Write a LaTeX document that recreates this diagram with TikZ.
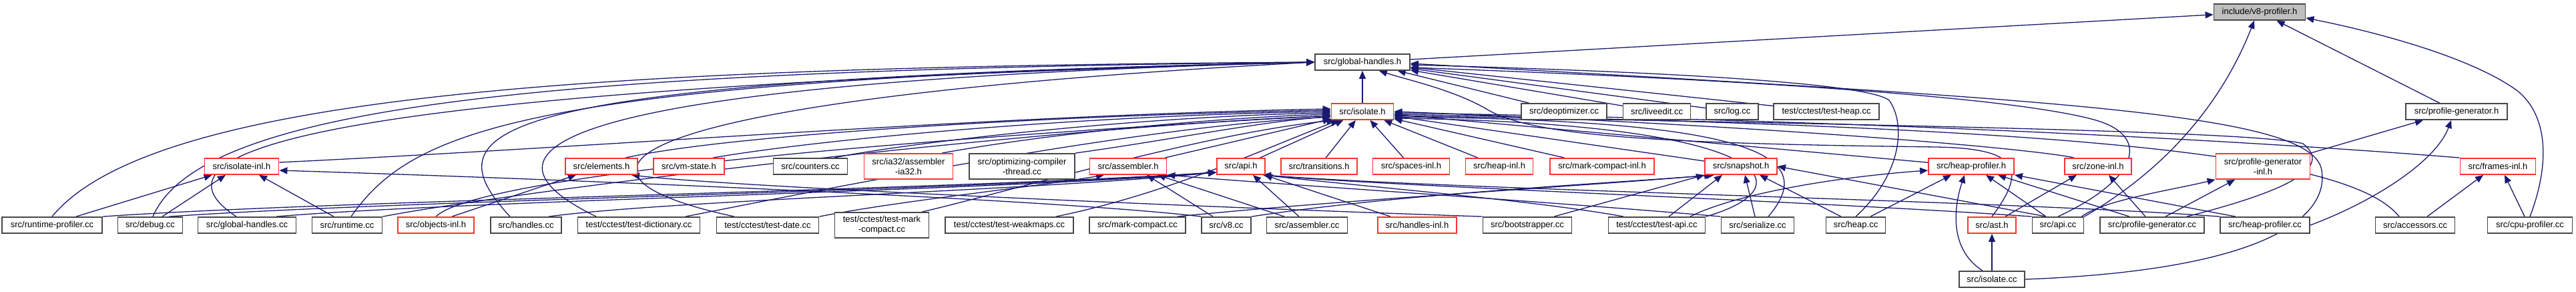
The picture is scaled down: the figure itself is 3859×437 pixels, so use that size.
\documentclass[tikz,border=0pt]{standalone}
\usepackage{fontspec}
\setmainfont{Liberation Sans}
\usetikzlibrary{arrows.meta}
\definecolor{eblue}{RGB}{25,25,112}
\definecolor{nred}{RGB}{255,50,50}
\definecolor{ngray}{RGB}{191,191,191}
\pgfdeclarelayer{bg}
\pgfsetlayers{bg,main}
\begin{document}
\begin{tikzpicture}[x=0.5pt,y=0.5pt,
 nd/.style={draw=black!72, line width=0.9pt, fill=white, inner sep=0pt, minimum height=12pt, font=\fontsize{6.5}{7.4}\selectfont, align=center},
 rn/.style={nd, draw=nred},
 tall/.style={minimum height=19pt},
 ed/.style={draw=eblue, line width=0.65pt, -{Triangle[length=6pt,width=5pt]}}]
\useasboundingbox (0,0) rectangle (3859,-437);
% level 0-2
\node[nd,fill=ngray,minimum width=68.5pt] (vp) at (3385,-18) {include/v8-profiler.h};
\node[nd,minimum width=71pt] (gh) at (2041,-93) {src/global-handles.h};
\node[rn,minimum width=46.5pt] (ih) at (2041,-167) {src/isolate.h};
\node[nd,minimum width=64pt] (deopt) at (2343,-167) {src/deoptimizer.cc};
\node[nd,minimum width=50.5pt] (liveedit) at (2482,-167) {src/liveedit.cc};
\node[nd,minimum width=39pt] (log) at (2595,-167) {src/log.cc};
\node[nd,minimum width=79pt] (theap) at (2736,-167) {test/cctest/test-heap.cc};
\node[nd,minimum width=76pt] (pgh) at (3680,-167) {src/profile-generator.h};
% level 3
\node[rn,minimum width=55.5pt] (iinl) at (362,-249) {src/isolate-inl.h};
\node[rn,minimum width=54pt] (elem) at (901,-249) {src/elements.h};
\node[rn,minimum width=53pt] (vms) at (1032,-249) {src/vm-state.h};
\node[nd,minimum width=55.5pt] (counters) at (1214,-249) {src/counters.cc};
\node[rn,tall,minimum width=66.5pt] (ia32) at (1361,-249) {src/ia32/assembler\\-ia32.h};
\node[nd,tall,minimum width=79pt] (ocomp) at (1531,-249) {src/optimizing-compiler\\-thread.cc};
\node[rn,minimum width=57.5pt] (asmh) at (1690,-249) {src/assembler.h};
\node[rn,minimum width=36pt] (apih) at (1859,-249) {src/api.h};
\node[rn,minimum width=57pt] (trans) at (1976,-249) {src/transitions.h};
\node[rn,minimum width=57.5pt] (spaces) at (2114,-249) {src/spaces-inl.h};
\node[rn,minimum width=50.5pt] (heapinl) at (2246,-249) {src/heap-inl.h};
\node[rn,minimum width=78pt] (mcinl) at (2400,-249) {src/mark-compact-inl.h};
\node[rn,minimum width=54pt] (snap) at (2608,-249) {src/snapshot.h};
\node[rn,minimum width=64pt] (hph) at (2953,-249) {src/heap-profiler.h};
\node[rn,minimum width=50pt] (zone) at (3143,-249) {src/zone-inl.h};
\node[rn,tall,minimum width=70.5pt] (pgi) at (3390,-249) {src/profile-generator\\-inl.h};
\node[rn,minimum width=56.5pt] (frames) at (3742,-249) {src/frames-inl.h};
% level 4
\node[nd,minimum width=75pt] (rprof) at (78,-337) {src/runtime-profiler.cc};
\node[nd,minimum width=48.5pt] (debug) at (225,-337) {src/debug.cc};
\node[nd,minimum width=73.5pt] (gcc) at (370,-337) {src/global-handles.cc};
\node[nd,minimum width=52.5pt] (runtime) at (520,-337) {src/runtime.cc};
\node[rn,minimum width=57pt] (objinl) at (653,-337) {src/objects-inl.h};
\node[nd,minimum width=53pt] (handles) at (788,-337) {src/handles.cc};
\node[nd,minimum width=91.5pt] (tdict) at (957,-337) {test/cctest/test-dictionary.cc};
\node[nd,minimum width=76.5pt] (tdate) at (1150,-337) {test/cctest/test-date.cc};
\node[nd,tall,minimum width=70.5pt] (tmc) at (1321,-337) {test/cctest/test-mark\\-compact.cc};
\node[nd,minimum width=96pt] (tweak) at (1512,-337) {test/cctest/test-weakmaps.cc};
\node[nd,minimum width=72pt] (mccc) at (1704,-337) {src/mark-compact.cc};
\node[nd,minimum width=37pt] (v8cc) at (1837,-337) {src/v8.cc};
\node[nd,minimum width=60.5pt] (asmcc) at (1958,-337) {src/assembler.cc};
\node[rn,minimum width=59pt] (hinl) at (2123,-337) {src/handles-inl.h};
\node[nd,minimum width=66.5pt] (boot) at (2288,-337) {src/bootstrapper.cc};
\node[nd,minimum width=72.5pt] (tapi) at (2482,-337) {test/cctest/test-api.cc};
\node[nd,minimum width=54.5pt] (ser) at (2633,-337) {src/serialize.cc};
\node[nd,minimum width=44.5pt] (heapcc) at (2780,-337) {src/heap.cc};
\node[rn,minimum width=36pt] (ast) at (2984,-337) {src/ast.h};
\node[nd,minimum width=38.5pt] (apicc) at (3083,-337) {src/api.cc};
\node[nd,minimum width=78pt] (pgcc) at (3224,-337) {src/profile-generator.cc};
\node[nd,minimum width=67pt] (hpcc) at (3393,-337) {src/heap-profiler.cc};
\node[nd,minimum width=59.5pt] (acc) at (3618,-337) {src/accessors.cc};
\node[nd,minimum width=63.5pt] (cpu) at (3790,-337) {src/cpu-profiler.cc};
\node[nd,minimum width=49pt] (isocc) at (2984,-418) {src/isolate.cc};
\begin{pgfonlayer}{bg}
% ---- edges to v8-profiler.h
\draw[ed] (gh) -- (vp);
\draw[ed] (pgh) -- (vp);
\draw[ed] (cpu.north) .. controls (3822,-240) and (3815,-170) .. (3770,-135) .. controls (3700,-85) and (3560,-48) .. ([yshift=2pt]vp.south east);
\draw[ed] (apicc.north east) .. controls (3250,-250) and (3330,-150) .. ([xshift=-4pt]vp.south);
% ---- profile-generator.h
\draw[ed] (pgi.north east) -- ([xshift=-25pt]pgh.south);
\draw[ed] (hpcc.east) .. controls (3560,-300) and (3650,-240) .. ([xshift=-4pt]pgh.south);
% ---- global-handles.h
\draw[ed] (ih) -- (gh);
\draw[ed] (deopt) -- (gh);
\draw[ed] (liveedit) -- (gh);
\draw[ed] (log) -- (gh);
\draw[ed] (theap) -- (gh);
\draw[ed] (heapcc.north) .. controls (2850,-260) and (2855,-185) .. (2830,-150) .. controls (2790,-120) and (2400,-105) .. ([yshift=-2pt]gh.east);
\draw[ed] (apicc.north) .. controls (3200,-270) and (3225,-205) .. (3140,-180) .. controls (3000,-140) and (2500,-115) .. ([yshift=-4pt]gh.east);
\draw[ed] (isocc.east) .. controls (3380,-405) and (3490,-330) .. (3478,-255) .. controls (3465,-170) and (3100,-150) .. ([yshift=-1pt]gh.east);
\draw[ed] (ast.north) .. controls (3040,-250) and (3020,-222) .. (2900,-220) .. controls (2500,-215) and (2300,-205) .. (2230,-165) .. controls (2180,-135) and (2110,-120) .. ([xshift=-23.5pt]gh.south east);
\draw[ed] (rprof.north) .. controls (230,-140) and (900,-100) .. (gh.west);
\draw[ed] ([xshift=2pt]debug.north) .. controls (300,-160) and (800,-105) .. (gh.west);
\draw[ed] ([xshift=-8pt]gcc.north) .. controls (180,-210) and (600,-130) .. (gh.west);
\draw[ed] ([xshift=3pt]runtime.north) .. controls (620,-190) and (800,-120) .. (gh.west);
\draw[ed] ([xshift=-12pt]handles.north) .. controls (640,-190) and (720,-120) .. (gh.west);
\draw[ed] ([xshift=-32pt]tdict.north) .. controls (700,-230) and (780,-125) .. (gh.west);
\draw[ed] ([xshift=-25pt]tdate.north) .. controls (800,-260) and (900,-150) .. (gh.west);
% ---- isolate.h
\draw[ed] ([yshift=3pt]iinl.east) .. controls (900,-220) and (1500,-172) .. ([yshift=2pt]ih.west);
\draw[ed] ([xshift=18pt]elem.north) .. controls (1100,-200) and (1600,-172) .. ([yshift=1pt]ih.west);
\draw[ed] ([xshift=18pt]vms.north) .. controls (1250,-205) and (1650,-172) .. (ih.west);
\draw[ed] ([xshift=18pt]counters.north) .. controls (1350,-215) and (1700,-174) .. ([yshift=-1pt]ih.west);
\draw[ed] ([xshift=25pt]ia32.north) .. controls (1600,-195) and (1850,-175) .. ([yshift=-2pt]ih.west);
\draw[ed] (ocomp.north east) .. controls (1750,-210) and (1900,-180) .. ([yshift=-4pt]ih.west);
\draw[ed] (asmh) -- (ih);
\draw[ed] (apih) -- (ih);
\draw[ed] (trans) -- (ih);
\draw[ed] (spaces) -- (ih);
\draw[ed] (heapinl) -- (ih);
\draw[ed] (mcinl) -- (ih);
\draw[ed] (snap) -- (ih);
\draw[ed] (hph) -- (ih);
\draw[ed] ([xshift=-18pt]zone.north) .. controls (3060,-225) and (2700,-190) .. (ih.east);
\draw[ed] (frames.north west) .. controls (3300,-205) and (2700,-178) .. ([yshift=-1pt]ih.east);
\draw[ed] ([xshift=-12pt]acc.north) .. controls (3520,-230) and (3100,-190) .. ([yshift=-2pt]ih.east);
\draw[ed] ([xshift=26pt]pgcc.north) .. controls (3430,-285) and (3495,-250) .. (3450,-215) .. controls (3380,-195) and (2700,-185) .. ([yshift=-3pt]ih.east);
\draw[ed] ([xshift=8pt]ser.north) .. controls (2725,-235) and (2640,-180) .. ([yshift=-4pt]ih.east);
\draw[ed] (tapi.north east) .. controls (2710,-280) and (2660,-185) .. ([yshift=-5pt]ih.east);
\draw[ed] (objinl.north) .. controls (720,-260) and (1400,-205) .. ([yshift=-3pt]ih.west);
\draw[ed] (runtime.north east) .. controls (750,-290) and (1500,-195) .. ([yshift=-3pt]ih.west);
\draw[ed] ([xshift=35pt]tdict.north) .. controls (1250,-280) and (1700,-190) .. ([yshift=-4pt]ih.west);
\draw[ed] ([xshift=30pt]tmc.north) .. controls (1500,-290) and (1800,-200) .. ([xshift=3pt]ih.south west);
\draw[ed] ([xshift=35pt]tweak.north) .. controls (1750,-290) and (1900,-220) .. ([xshift=6pt]ih.south west);
% ---- isolate-inl.h
\draw[ed] ([xshift=18pt]rprof.north) -- ([xshift=6pt]iinl.south west);
\draw[ed] ([xshift=9pt]debug.north) -- ([xshift=-12pt]iinl.south);
\draw[ed] ([xshift=-10pt]runtime.north) -- ([xshift=13pt]iinl.south);
\draw[ed] (v8cc.north west) .. controls (1600,-300) and (900,-270) .. ([yshift=-3pt]iinl.east);
% ---- elements.h
\draw[ed] ([xshift=12pt]objinl.north) -- ([xshift=-19pt]elem.south);
\draw[ed] (boot.north west) .. controls (1800,-310) and (1100,-280) .. ([xshift=-5pt]elem.south east);
% ---- assembler.h
\draw[ed] (tdate.north east) .. controls (1350,-300) and (1550,-280) .. ([xshift=-18pt]asmh.south);
\draw[ed] ([xshift=-10pt]v8cc.north) -- ([xshift=14pt]asmh.south);
\draw[ed] ([xshift=-17pt]asmcc.north) -- ([xshift=22pt]asmh.south);
\draw[ed] (ser.north west) .. controls (2300,-300) and (1900,-275) .. (asmh.south east);
% ---- api.h
\draw[ed] (rprof.north east) .. controls (500,-300) and (1400,-285) .. ([yshift=2pt]apih.south west);
\draw[ed] ([xshift=14pt]debug.north) .. controls (600,-300) and (1450,-285) .. ([yshift=2pt]apih.south west);
\draw[ed] ([xshift=22pt]gcc.north) .. controls (700,-300) and (1500,-285) .. ([yshift=2pt]apih.south west);
\draw[ed] ([xshift=17pt]handles.north) .. controls (1000,-300) and (1550,-285) .. ([yshift=2pt]apih.south west);
\draw[ed] ([xshift=-6pt]asmcc.north) -- ([xshift=9pt]apih.south);
\draw[ed] ([xshift=-20pt]hinl.north) -- ([xshift=-1pt]apih.south east);
\draw[ed] (apicc.north west) .. controls (2700,-300) and (2100,-280) .. ([xshift=-2pt]apih.south east);
\draw[ed] ([xshift=-25pt]tapi.north) .. controls (2300,-300) and (2050,-280) .. ([xshift=-2pt]apih.south east);
\draw[ed] (hpcc.north west) .. controls (3000,-300) and (2200,-285) .. ([xshift=-2pt]apih.south east);
% ---- snapshot.h
\draw[ed] ([xshift=20pt]boot.north) -- (snap.south west);
\draw[ed] ([xshift=9pt]tapi.north) -- ([xshift=-14pt]snap.south);
\draw[ed] ([xshift=-2pt]ser.north) -- ([xshift=3pt]snap.south);
\draw[ed] ([xshift=-11pt]heapcc.north) -- ([xshift=14pt]snap.south);
\draw[ed] ([xshift=-9pt]apicc.north) -- (snap.east);
\draw[ed] (v8cc.north east) .. controls (2100,-290) and (2400,-275) .. ([xshift=-20pt]snap.south);
\draw[ed] ([xshift=30pt]mccc.north) .. controls (2000,-300) and (2350,-280) .. ([xshift=6pt]snap.south west);
% ---- heap-profiler.h
\draw[ed] ([xshift=11pt]heapcc.north) -- ([xshift=-15pt]hph.south);
\draw[ed] ([xshift=-7pt]isocc.north) .. controls (2915,-370) and (2930,-300) .. ([xshift=-5pt]hph.south);
\draw[ed] ([xshift=-9pt]apicc.north) -- ([xshift=11pt]hph.south);
\draw[ed] ([xshift=-17pt]pgcc.north) -- ([xshift=20pt]hph.south);
\draw[ed] ([xshift=-22pt]hpcc.north) -- (hph.south east);
\draw[ed] ([xshift=25pt]tapi.north) .. controls (2600,-290) and (2750,-265) .. ([yshift=-3pt]hph.west);
% ---- zone-inl.h
\draw[ed] ([xshift=10pt]ast.north) -- ([xshift=-16pt]zone.south);
\draw[ed] ([xshift=-5pt]pgcc.north) -- ([xshift=8pt]zone.south);
% ---- profile-generator-inl.h
\draw[ed] ([xshift=10pt]pgcc.north) -- ([xshift=-21pt]pgi.south);
\draw[ed] ([xshift=-2pt]apicc.north east) .. controls (3150,-300) and (3250,-285) .. (pgi.south west);
% ---- frames-inl.h
\draw[ed] ([xshift=9pt]acc.north) -- ([xshift=-11pt]frames.south);
\draw[ed] ([xshift=-4pt]cpu.north) -- ([xshift=5pt]frames.south);
% ---- ast.h
\draw[ed] (isocc) -- (ast);
\end{pgfonlayer}
\end{tikzpicture}
\end{document}
